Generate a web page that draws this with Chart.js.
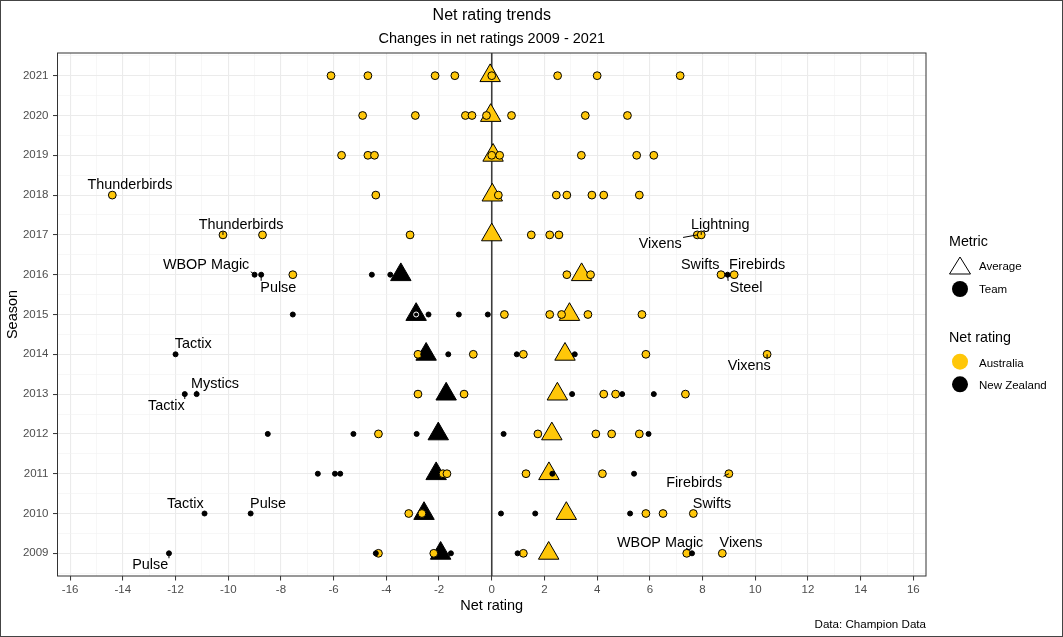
<!DOCTYPE html>
<html>
<head>
<meta charset="utf-8">
<script src="https://cdn.jsdelivr.net/npm/chart.js@4.4.1/dist/chart.umd.min.js"></script>
<style>
  html, body { margin: 0; padding: 0; background: #fff; }
  canvas { display: block; }
</style>
</head>
<body>
<canvas id="chart" width="1063" height="637"></canvas>
<script>
// seasons and net ratings
const seasons = [2009, 2010, 2011, 2012, 2013, 2014, 2015, 2016, 2017, 2018, 2019, 2020, 2021];

const ausRatings = [
  [-4.3, -2.2, 1.2, 7.4, 8.75],              // 2009
  [-3.15, -2.65, 5.85, 6.5, 7.65],           // 2010
  [-1.85, -1.7, 1.3, 4.2, 9.0],              // 2011
  [-4.3, 1.75, 3.95, 4.55, 5.6],             // 2012
  [-2.8, -1.05, 4.25, 4.7, 7.35],            // 2013
  [-2.8, -0.7, 1.2, 5.85, 10.45],            // 2014
  [0.48, 2.2, 2.65, 3.65, 5.7],              // 2015
  [-7.55, 2.85, 3.75, 8.7, 9.2],             // 2016
  [-10.2, -8.7, -3.1, 1.5, 2.2, 2.55, 7.8, 7.95],   // 2017
  [-14.4, -4.4, 0.25, 2.45, 2.85, 3.8, 4.25, 5.6],  // 2018
  [-5.7, -4.7, -4.45, 0.0, 0.3, 3.4, 5.5, 6.15],    // 2019
  [-4.9, -2.9, -1.0, -0.75, -0.2, 0.75, 3.55, 5.15],// 2020
  [-6.1, -4.7, -2.15, -1.4, 0.0, 2.5, 4.0, 7.15]    // 2021
];

const nzRatings = [
  [-12.25, -4.4, -1.55, 0.98, 7.6],          // 2009
  [-10.9, -9.15, 0.35, 1.65, 5.25],          // 2010
  [-6.6, -5.95, -5.75, 2.3, 5.4],            // 2011
  [-8.5, -5.25, -2.85, 0.45, 5.95],          // 2012
  [-11.65, -11.2, 3.05, 4.95, 6.15],         // 2013
  [-12.0, -2.6, -1.65, 0.95, 3.15],          // 2014
  [-7.55, -2.87, -2.4, -1.25, -0.15],        // 2015
  [-9.0, -8.75, -4.55, -3.85, 8.95],         // 2016
  [], [], [], [], []
];

const ausAverage = [2.16, 2.83, 2.17, 2.28, 2.49, 2.78, 2.95, 3.41, 0.0, 0.02, 0.05, -0.04, -0.06];
const nzAverage  = [-1.94, -2.57, -2.11, -2.03, -1.73, -2.49, -2.87, -3.45, null, null, null, null, null];

// team labels (repelled text) : team, season, rating of the point, label centre
const labelTeams   = ["Thunderbirds", "Thunderbirds", "Lightning", "Vixens", "WBOP Magic", "Pulse", "Swifts", "Firebirds", "Steel",
                      "Tactix", "Vixens", "Mystics", "Tactix", "Firebirds", "Tactix", "Pulse", "Swifts", "Pulse", "WBOP Magic", "Vixens"];
const labelSeasons = [2018, 2017, 2017, 2017, 2016, 2016, 2016, 2016, 2016,
                      2014, 2014, 2013, 2013, 2011, 2010, 2010, 2010, 2009, 2009, 2009];
const labelValues  = [-14.4, -10.2, 7.95, 7.8, -9.0, -8.75, 8.7, 9.2, 8.95,
                      -12.0, 10.45, -11.2, -11.65, 9.0, -10.9, -9.15, 7.65, -12.25, 7.6, 8.75];
const labelX       = [-13.73, -9.51, 8.67, 6.39, -10.84, -8.1, 7.91, 10.07, 9.65,
                      -11.33, 9.77, -10.5, -12.35, 7.68, -11.63, -8.49, 8.36, -12.96, 6.39, 9.46];
const labelY       = [2018.25, 2017.26, 2017.26, 2016.76, 2016.25, 2015.67, 2016.25, 2016.25, 2015.67,
                      2014.25, 2013.7, 2013.26, 2012.7, 2010.76, 2010.25, 2010.25, 2010.25, 2008.7, 2009.25, 2009.25];

const xTicks = [-16, -14, -12, -10, -8, -6, -4, -2, 0, 2, 4, 6, 8, 10, 12, 14, 16];

const FONT = '"Liberation Sans", Arial, Helvetica, sans-serif';
const GOLD = '#FFC709';

function toPoints(lists) {
  const out = [];
  lists.forEach((vals, i) => vals.forEach(v => out.push({ x: v, y: seasons[i] })));
  return out;
}
function avgPoints(vals) {
  return vals.map((v, i) => ({ x: v, y: seasons[i] })).filter(p => p.x !== null);
}

const xMin = -16.48, xMax = 16.48, yMin = 2008.43, yMax = 2021.57;
const xGrid = [], yGrid = [];
for (let v = -16; v <= 16; v++) xGrid.push(v);
for (let v = 2008.5; v <= 2021.5; v += 0.5) yGrid.push(v);

const isMajorX = v => xTicks.includes(v);
const isMajorY = v => seasons.includes(v);

const decorations = {
  id: 'decorations',
  afterDatasetsDraw(chart) {
    const { ctx, chartArea: a, scales } = chart;
    ctx.save();
    // panel border
    ctx.strokeStyle = '#333';
    ctx.lineWidth = 1;
    ctx.strokeRect(a.left, a.top, a.right - a.left, a.bottom - a.top);

    // repelled labels with segments
    ctx.font = '14.4px ' + FONT;
    ctx.textAlign = 'center';
    ctx.textBaseline = 'middle';
    labelTeams.forEach((t, i) => {
      const px = scales.x.getPixelForValue(labelValues[i]);
      const py = scales.y.getPixelForValue(labelSeasons[i]);
      const lx = scales.x.getPixelForValue(labelX[i]);
      const ly = scales.y.getPixelForValue(labelY[i]);
      const hw = ctx.measureText(t).width / 2 + 1.5;
      const hh = 7;
      const cx = Math.min(Math.max(px, lx - hw), lx + hw);
      const cy = Math.min(Math.max(py, ly - hh), ly + hh);
      if (Math.hypot(cx - px, cy - py) > 3) {
        ctx.strokeStyle = '#000';
        ctx.lineWidth = 1;
        ctx.beginPath();
        ctx.moveTo(px, py);
        ctx.lineTo(cx, cy);
        ctx.stroke();
      }
      ctx.fillStyle = '#000';
      ctx.fillText(t, lx, ly);
    });
    ctx.restore();
  },
  afterDraw(chart) {
    const { ctx, chartArea: a } = chart;
    const mid = (a.left + a.right) / 2;
    ctx.save();
    ctx.fillStyle = '#000';
    ctx.textBaseline = 'alphabetic';

    ctx.textAlign = 'center';
    ctx.font = '16px ' + FONT;
    ctx.fillText('Net rating trends', mid, 19.5);
    ctx.font = '14.5px ' + FONT;
    ctx.fillText('Changes in net ratings 2009 - 2021', mid, 42.5);

    ctx.font = '14.5px ' + FONT;
    ctx.fillText('Net rating', mid, 610);
    ctx.save();
    ctx.translate(17, (a.top + a.bottom) / 2);
    ctx.rotate(-Math.PI / 2);
    ctx.fillText('Season', 0, 0);
    ctx.restore();

    ctx.textAlign = 'right';
    ctx.font = '11.6px ' + FONT;
    ctx.fillText('Data: Champion Data', a.right, 627.5);

    // legend
    ctx.textAlign = 'left';
    ctx.font = '14.3px ' + FONT;
    ctx.fillText('Metric', 949, 246);
    ctx.fillText('Net rating', 949, 341.5);
    ctx.font = '11.5px ' + FONT;
    ctx.fillText('Average', 979, 270);
    ctx.fillText('Team', 979, 293);
    ctx.fillText('Australia', 979, 366.5);
    ctx.fillText('New Zealand', 979, 389);

    ctx.strokeStyle = '#000';
    ctx.lineWidth = 1;
    ctx.beginPath();
    ctx.moveTo(960, 257);
    ctx.lineTo(970.5, 274);
    ctx.lineTo(949.5, 274);
    ctx.closePath();
    ctx.stroke();
    const dot = (y, c) => { ctx.fillStyle = c; ctx.beginPath(); ctx.arc(960, y, 8, 0, Math.PI * 2); ctx.fill(); };
    dot(289, '#000');
    dot(361.7, GOLD);
    dot(384.3, '#000');

    // outer frame
    ctx.strokeStyle = '#444';
    ctx.strokeRect(0.5, 0.5, chart.width - 1, chart.height - 1);
    ctx.restore();
  }
};

const gridOpts = (isMajor) => ({
  color: c => isMajor(c.tick.value) ? '#EBEBEB' : '#F2F2F2',
  lineWidth: c => isMajor(c.tick.value) ? 1.1 : 0.6,
  tickLength: 4.5,
  tickWidth: 1,
  tickColor: c => isMajor(c.tick.value) ? '#333' : 'rgba(0,0,0,0)'
});

new Chart(document.getElementById('chart'), {
  type: 'scatter',
  data: {
    datasets: [
      {
        type: 'line',
        data: [{ x: 0, y: yMin }, { x: 0, y: yMax }],
        borderColor: '#3d3d3d',
        borderWidth: 1.6,
        pointRadius: 0,
        order: 10
      },
      {
        label: 'Australia average',
        data: avgPoints(ausAverage),
        pointStyle: 'triangle',
        pointRadius: 11.8,
        backgroundColor: GOLD,
        borderColor: '#000',
        borderWidth: 1,
        order: 6
      },
      {
        label: 'New Zealand average',
        data: avgPoints(nzAverage),
        pointStyle: 'triangle',
        pointRadius: 11.8,
        backgroundColor: '#000',
        borderColor: '#000',
        borderWidth: 1,
        order: 5
      },
      {
        label: 'Australia',
        data: toPoints(ausRatings),
        pointRadius: 3.9,
        backgroundColor: GOLD,
        borderColor: '#000',
        borderWidth: 1,
        order: 2
      },
      {
        label: 'New Zealand',
        data: toPoints(nzRatings),
        pointRadius: 2.5,
        backgroundColor: '#000',
        borderColor: c => {
          const i = seasons.indexOf(c.raw.y);
          return Math.abs(c.raw.x - nzAverage[i]) < 0.02 ? '#fff' : '#000';
        },
        borderWidth: 1,
        order: 1
      }
    ]
  },
  options: {
    responsive: false,
    animation: false,
    layout: { padding: { top: 53, right: 137, bottom: 0, left: 0 } },
    plugins: { legend: { display: false }, tooltip: { enabled: false } },
    scales: {
      x: {
        type: 'linear',
        min: xMin,
        max: xMax,
        afterBuildTicks: s => { s.ticks = xGrid.map(v => ({ value: v })); },
        afterFit: s => { s.height = 61; },
        ticks: {
          autoSkip: false,
          maxRotation: 0,
          padding: 2,
          color: '#4D4D4D',
          font: { family: FONT, size: 11.5 },
          callback: v => isMajorX(v) ? String(v) : ''
        },
        grid: gridOpts(isMajorX),
        border: { display: false }
      },
      y: {
        type: 'linear',
        min: yMin,
        max: yMax,
        afterBuildTicks: s => { s.ticks = yGrid.map(v => ({ value: v })); },
        afterFit: s => { s.width = 57.5; },
        ticks: {
          autoSkip: false,
          padding: 4.5,
          color: '#4D4D4D',
          font: { family: FONT, size: 11.5 },
          callback: v => isMajorY(v) ? String(v) : ''
        },
        grid: gridOpts(isMajorY),
        border: { display: false }
      }
    }
  },
  plugins: [decorations]
});
</script>
</body>
</html>
